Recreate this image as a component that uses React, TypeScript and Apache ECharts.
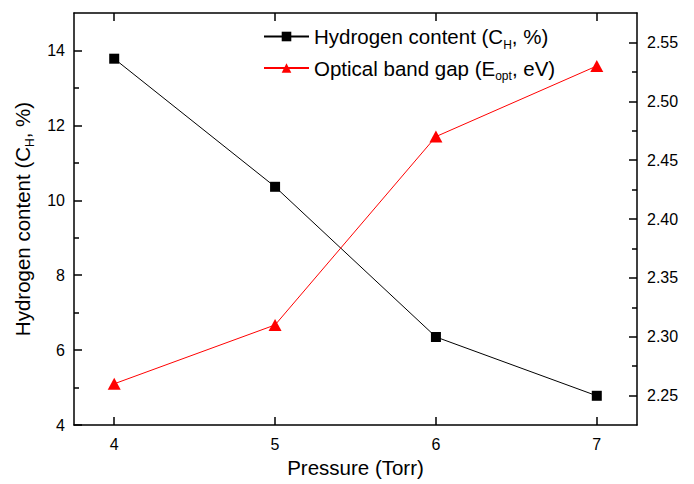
import React, { useEffect, useRef } from "react";
import * as echarts from "echarts";

const pressure = [4, 5, 6, 7];
const hydrogen = [13.78, 10.36, 6.35, 4.78];
const bandGap = [2.26, 2.31, 2.47, 2.53];
const xTicks = [4, 5, 6, 7];
const leftMajor = [4, 6, 8, 10, 12, 14];
const leftMinor = [5, 7, 9, 11, 13];
const rightMajor = [2.25, 2.3, 2.35, 2.4, 2.45, 2.5, 2.55];
const rightMinor = [2.275, 2.325, 2.375, 2.425, 2.475, 2.525];

const FONT = "Liberation Sans";

export default function App() {
  const ref = useRef<HTMLDivElement>(null);
  useEffect(() => {
    document.body.style.margin = "0";
    const chart = echarts.init(ref.current!, null, { renderer: "svg" });
    const grid = { left: 74, right: 57, top: 13, bottom: 59 };
    const lineStyle = { color: "#000", width: 1.5 };
    const baseY = {
      type: "value" as const,
      splitLine: { show: false },
    };
    const rich = {
      n: { fontSize: 20.5, fontFamily: FONT, color: "#000", lineHeight: 28, verticalAlign: "middle" },
      s: { fontSize: 12, fontFamily: FONT, color: "#000", lineHeight: 13, verticalAlign: "bottom" },
    };
    chart.setOption({
      animation: false,
      backgroundColor: "#fff",
      textStyle: { fontFamily: FONT },
      grid,
      legend: {
        orient: "vertical",
        left: 258,
        top: 21,
        itemWidth: 45,
        itemHeight: 12,
        itemGap: 7,
        data: ["H", "E"],
        formatter: (n: string) =>
          n === "H"
            ? "{n|Hydrogen content (C}{s|H}{n|, %)}"
            : "{n|Optical band gap (E}{s|opt}{n|, eV)}",
        textStyle: { fontFamily: FONT, color: "#000", rich },
      },
      xAxis: [
        {
          type: "value",
          min: 3.75,
          max: 7.25,
          position: "bottom",
          name: "Pressure (Torr)",
          nameLocation: "middle",
          nameGap: 31,
          nameTextStyle: { fontSize: 20.5, color: "#000", fontFamily: FONT },
          axisLine: { show: true, onZero: false, lineStyle },
          axisTick: { show: true, inside: true, length: 8, customValues: xTicks, lineStyle: { color: "#000", width: 1.5 } },
          axisLabel: { show: true, customValues: xTicks, fontSize: 16, color: "#000", fontFamily: FONT, margin: 11 },
          splitLine: { show: false },
        },
        {
          type: "value",
          min: 3.75,
          max: 7.25,
          position: "top",
          axisLine: { show: true, onZero: false, lineStyle },
          axisTick: { show: true, inside: true, length: 8, customValues: xTicks, lineStyle: { color: "#000", width: 1.5 } },
          axisLabel: { show: false },
          splitLine: { show: false },
        },
      ],
      yAxis: [
        {
          ...baseY,
          min: 4,
          max: 15,
          position: "left",
          name: "{n|Hydrogen content (C}{s|H}{n|, %)}",
          nameLocation: "middle",
          nameGap: 31,
          nameTextStyle: { fontFamily: FONT, color: "#000", rich },
          axisLine: { show: true, onZero: false, lineStyle },
          axisTick: { show: true, inside: true, length: 8, customValues: leftMajor, lineStyle: { color: "#000", width: 1.5 } },
          axisLabel: { show: true, customValues: leftMajor, fontSize: 16, color: "#000", fontFamily: FONT, margin: 9 },
        },
        {
          ...baseY,
          min: 2.225,
          max: 2.575,
          position: "right",
          axisLine: { show: true, onZero: false, lineStyle },
          axisTick: { show: true, inside: true, length: 8, customValues: rightMajor, lineStyle: { color: "#000", width: 1.5 } },
          axisLabel: {
            show: true,
            customValues: rightMajor,
            fontSize: 16,
            color: "#000",
            fontFamily: FONT,
            margin: 10,
            formatter: (v: number) => v.toFixed(2),
          },
        },
        {
          ...baseY,
          min: 4,
          max: 15,
          position: "left",
          axisLine: { show: false },
          axisTick: { show: true, inside: true, length: 5, customValues: leftMinor, lineStyle: { color: "#000", width: 1.5 } },
          axisLabel: { show: false },
        },
        {
          ...baseY,
          min: 2.225,
          max: 2.575,
          position: "right",
          axisLine: { show: false },
          axisTick: { show: true, inside: true, length: 5, customValues: rightMinor, lineStyle: { color: "#000", width: 1.5 } },
          axisLabel: { show: false },
        },
      ],
      series: [
        {
          name: "H",
          type: "line",
          xAxisIndex: 0,
          yAxisIndex: 0,
          data: pressure.map((p, i) => [p, hydrogen[i]]),
          symbol: "rect",
          symbolSize: 10,
          itemStyle: { color: "#000" },
          lineStyle: { color: "#000", width: 1 },
        },
        {
          name: "E",
          type: "line",
          xAxisIndex: 0,
          yAxisIndex: 1,
          data: pressure.map((p, i) => [p, bandGap[i]]),
          symbol: "triangle",
          symbolSize: [13, 12],
          itemStyle: { color: "#ff0000" },
          lineStyle: { color: "#ff0000", width: 1 },
        },
      ],
    });
    return () => chart.dispose();
  }, []);
  return <div ref={ref} style={{ width: 694, height: 484 }} />;
}
